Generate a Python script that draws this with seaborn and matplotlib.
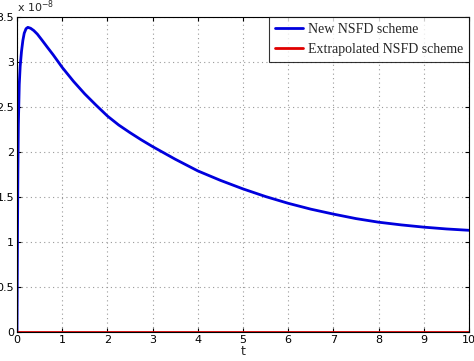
import matplotlib
matplotlib.use("Agg")
import matplotlib.pyplot as plt
import seaborn as sns
import pandas as pd

t_vals = [0, 0.01, 0.02, 0.03, 0.05, 0.07, 0.1, 0.13, 0.16, 0.2, 0.24, 0.3, 0.37, 0.45,
          0.55, 0.67, 0.8, 0.9, 1.0, 1.25, 1.5, 1.75, 2.0, 2.25, 2.5, 2.75, 3.0, 3.25,
          3.5, 3.75, 4.0, 4.5, 5.0, 5.5, 6.0, 6.5, 7.0, 7.5, 8.0, 8.5, 9.0, 9.5, 10.0]
new_nsfd = [0, 1.0, 1.8, 2.3, 2.75, 2.95, 3.12, 3.24, 3.32, 3.37, 3.385, 3.375, 3.35, 3.31,
            3.245, 3.165, 3.08, 3.01, 2.94, 2.785, 2.645, 2.52, 2.40, 2.30, 2.215, 2.135, 2.06, 1.99,
            1.92, 1.855, 1.79, 1.685, 1.59, 1.505, 1.43, 1.365, 1.31, 1.26, 1.22, 1.19, 1.165, 1.145, 1.13]
extrap_nsfd = [0.0] * len(t_vals)

labels = ["New NSFD scheme", "Extrapolated NSFD scheme"]

df = pd.concat([
    pd.DataFrame({"t": t_vals, "y": [v * 1e-8 for v in new_nsfd], "s": labels[0]}),
    pd.DataFrame({"t": t_vals, "y": [v * 1e-8 for v in extrap_nsfd], "s": labels[1]}),
])

sns.set_style("white")
plt.rcParams['font.family'] = ['DejaVu Sans']

fig = plt.figure(figsize=(4.74, 3.61), dpi=100)
ax = fig.add_axes([17/474, 1 - 332/361, (469 - 17)/474, (332 - 17)/361])

sns.lineplot(data=df, x="t", y="y", hue="s", palette=["#0000dd", "#e00000"],
             linewidth=2, ax=ax, legend=True, estimator=None, sort=False)

ax.set_xlim(0, 10)
ax.set_ylim(0, 3.5e-8)
ax.set_xticks(range(0, 11))
ax.set_yticks([i * 0.5e-8 for i in range(8)])
ax.set_yticklabels(["0", "0.5", "1", "1.5", "2", "2.5", "3", "3.5"])
ax.set_xticklabels([str(i) for i in range(11)])
ax.tick_params(axis="both", labelsize=8, direction="in", length=3, pad=2,
               top=True, right=True, bottom=True, left=True, colors="black")
ax.grid(True, linestyle=(0, (1, 3)), color="#999999", linewidth=0.8)
for sp in ax.spines.values():
    sp.set_color("black")
    sp.set_linewidth(0.8)
ax.set_xlabel("t", fontsize=9, labelpad=0)
ax.set_ylabel("")
ax.text(0.0, 1.005, r"x 10$^{-8}$", transform=ax.transAxes, fontsize=8,
        ha="left", va="bottom")

leg = ax.legend(loc="upper right", frameon=True, fancybox=False, borderaxespad=0,
                prop={"family": "Liberation Serif", "size": 10}, handlelength=2.0,
                handletextpad=0.35, borderpad=0.45, labelspacing=0.45)
leg.get_frame().set_edgecolor("black")
leg.get_frame().set_linewidth(0.8)
leg.set_title(None)

fig.savefig("out.png", dpi=100)
